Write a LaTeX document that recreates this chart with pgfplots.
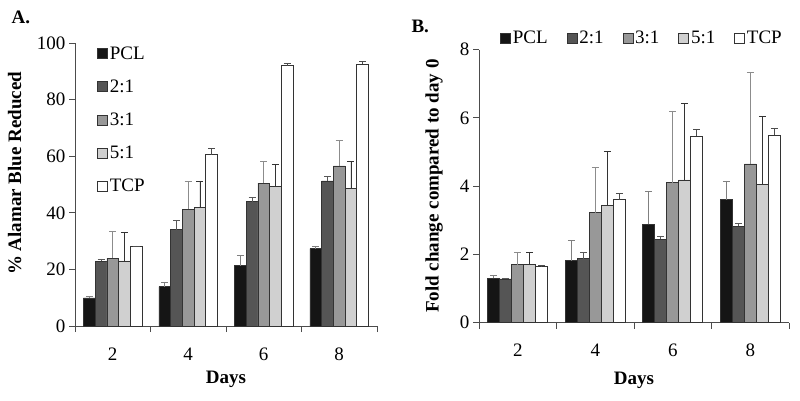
\documentclass[border=0pt]{standalone}
\usepackage{fontspec}
\setmainfont{Liberation Serif}
\usepackage{pgfplots}
\pgfplotsset{compat=1.18}
\definecolor{cA}{HTML}{151515}
\definecolor{cB}{HTML}{555555}
\definecolor{cC}{HTML}{989898}
\definecolor{cD}{HTML}{D0D0D0}
\definecolor{cE}{HTML}{FFFFFF}
\newcommand{\fs}{\fontsize{19}{21}\selectfont}
\pgfplotsset{
 mybar/.style={
  scale only axis, ybar=0pt,
  axis lines*=left, axis line style={black!70, line width=0.8pt},
  xmin=1, xmax=9, xtick={2,4,6,8}, minor xtick={1,3,5,7,9},
  tick align=outside, major tick length=6pt, minor tick length=6pt,
  major x tick style={draw=none},
  minor x tick style={black!70, line width=0.8pt},
  ytick style={black!70, line width=0.8pt},
  /pgf/number format/assume math mode=true,
  tick label style={font=\fs},
  label style={font=\fs\bfseries},
  xticklabel shift=12pt,
  ymin=0,
  error bars/y dir=plus, error bars/y explicit,
  legend image code/.code={\draw[#1,draw=black!80,line width=0.6pt] (0pt,-5pt) rectangle (10pt,5pt);},
  legend style={draw=none, fill=none, font=\fs, inner sep=0pt},
  legend cell align=left,
 },
 bs/.style={draw=black!80, line width=0.6pt,
   error bars/error bar style={#1, line width=0.8pt},
   error bars/error mark options={rotate=90, #1, mark size=3.5pt, line width=0.8pt}},
}
\begin{document}
\begin{tikzpicture}
\useasboundingbox (0,0) rectangle (800pt,400pt);
\node[font=\fs\bfseries, anchor=west] at (8pt,383pt) {A.};
\node[font=\fs\bfseries, anchor=west] at (408pt,374pt) {B.};
\begin{axis}[mybar, at={(75pt,74pt)}, anchor=south west,
  width=302pt, height=283pt, bar width=11.7pt,
  ymax=100, ytick={0,20,40,60,80,100},
  xlabel={Days}, ylabel={\% Alamar Blue Reduced},
  xlabel style={at={(axis description cs:0.5,-0.19)}, anchor=center},
  ylabel style={at={(axis description cs:-0.2,0.54)}, anchor=center},
  legend style={at={(axis description cs:0.073,0.995)}, anchor=north west, row sep=15pt},
]
\addplot[bs=black!50, fill=cA] table[x=x,y=y,y error=e] {
x y e
2 9.9 0.6
4 13.9 1.4
6 21.3 3.7
8 27.3 0.7
};
\addplot[bs=black!65, fill=cB] table[x=x,y=y,y error=e] {
x y e
2 22.8 0.9
4 34.0 3.2
6 43.9 1.6
8 51.3 1.5
};
\addplot[bs=black!45, fill=cC] table[x=x,y=y,y error=e] {
x y e
2 24.0 9.5
4 41.3 9.7
6 50.5 7.5
8 56.6 8.9
};
\addplot[bs=black!80, fill=cD] table[x=x,y=y,y error=e] {
x y e
2 23.0 10.0
4 42.0 9.0
6 49.2 7.8
8 48.5 9.5
};
\addplot[bs=black!70, fill=cE] table[x=x,y=y,y error=e] {
x y e
2 28.3 0
4 60.6 2.2
6 92.0 0.7
8 92.6 0.9
};
\legend{PCL,2:1,3:1,5:1,TCP}
\end{axis}
\begin{axis}[mybar, at={(479pt,77.3pt)}, anchor=south west,
  width=310pt, height=273.2pt, bar width=12pt,
  ymax=8, ytick={0,2,4,6,8},
  xlabel={Days}, ylabel={Fold change compared to day 0},
  xlabel style={at={(axis description cs:0.5,-0.21)}, anchor=center},
  ylabel style={at={(axis description cs:-0.145,0.5)}, anchor=center},
  legend columns=5,
  legend style={at={(axis description cs:0.068,1.042)}, anchor=west, /tikz/every even column/.append style={column sep=17pt}},
]
\addplot[bs=black!50, fill=cA] table[x=x,y=y,y error=e] {
x y e
2 1.30 0.08
4 1.82 0.58
6 2.88 0.97
8 3.60 0.55
};
\addplot[bs=black!65, fill=cB] table[x=x,y=y,y error=e] {
x y e
2 1.28 0.02
4 1.88 0.17
6 2.45 0.07
8 2.82 0.08
};
\addplot[bs=black!45, fill=cC] table[x=x,y=y,y error=e] {
x y e
2 1.70 0.35
4 3.22 1.33
6 4.10 2.10
8 4.65 2.68
};
\addplot[bs=black!80, fill=cD] table[x=x,y=y,y error=e] {
x y e
2 1.70 0.35
4 3.43 1.59
6 4.18 2.24
8 4.05 2.00
};
\addplot[bs=black!70, fill=cE] table[x=x,y=y,y error=e] {
x y e
2 1.65 0.02
4 3.60 0.18
6 5.47 0.20
8 5.50 0.20
};
\legend{PCL,2:1,3:1,5:1,TCP}
\end{axis}
\end{tikzpicture}
\end{document}
